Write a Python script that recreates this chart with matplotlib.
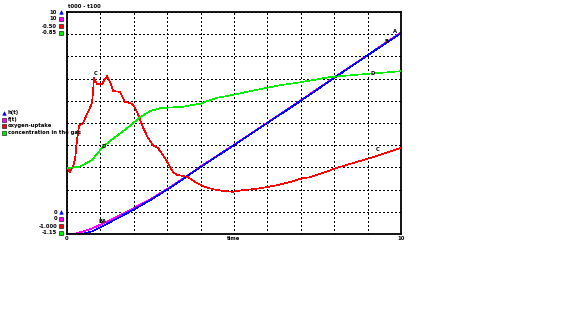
import matplotlib
matplotlib.use("Agg")
import matplotlib.pyplot as plt
from matplotlib.lines import Line2D

# ---- series data ----
t_blue = [0, 0.25, 0.45, 0.75, 1.0, 1.5, 2.0, 2.5, 3.0, 3.5, 4.0, 5.0, 6.0, 7.0, 8.0, 9.0, 10.0]
v_blue = [0, 0, 0, 0.12, 0.30, 0.70, 1.10, 1.53, 2.00, 2.50, 3.02, 4.00, 5.00, 6.00, 7.03, 8.05, 9.05]

t_mag = [0, 0.2, 0.5, 0.75, 1.0, 1.5, 2.0, 2.5, 3.0, 3.5, 4.0, 5.0, 6.0, 7.0, 8.0, 9.0, 10.0]
v_mag = [0, 0, 0.12, 0.25, 0.42, 0.78, 1.17, 1.57, 2.03, 2.52, 3.04, 4.02, 5.02, 6.02, 7.05, 8.06, 9.08]

t_red = [0, 0.09, 0.18, 0.24, 0.30, 0.36, 0.48, 0.63, 0.75, 0.81, 0.90, 1.05, 1.20, 1.29,
         1.38, 1.59, 1.74, 1.89, 1.98, 2.10, 2.19, 2.28, 2.43, 2.57, 2.72, 2.87, 3.02,
         3.17, 3.29, 3.47, 3.62, 3.74, 3.89, 4.13, 4.37, 4.67, 4.97, 5.27, 5.57, 5.87,
         6.29, 6.68, 7.07, 7.28, 8.17, 9.07, 10.0]
v_red = [-0.851, -0.860, -0.847, -0.833, -0.788, -0.757, -0.750, -0.725, -0.705, -0.649,
         -0.662, -0.662, -0.644, -0.658, -0.678, -0.680, -0.703, -0.705, -0.709, -0.725,
         -0.743, -0.761, -0.784, -0.800, -0.806, -0.822, -0.840, -0.860, -0.867, -0.869,
         -0.872, -0.878, -0.885, -0.894, -0.899, -0.903, -0.905, -0.901, -0.899, -0.896,
         -0.890, -0.883, -0.874, -0.872, -0.849, -0.829, -0.806]

t_green = [0, 0.39, 0.75, 1.08, 1.44, 1.80, 2.19, 2.49, 2.78, 3.47, 3.98, 4.49, 4.97,
           5.69, 6.38, 6.98, 7.87, 8.62, 10.0]
v_green = [-1.061, -1.059, -1.050, -1.032, -1.019, -1.007, -0.992, -0.984, -0.980, -0.978,
           -0.974, -0.966, -0.962, -0.955, -0.949, -0.945, -0.938, -0.935, -0.930]

# axis ranges per series (bottom, top)
blue_range = (0, 10)
mag_range = (0, 10)
red_range = (-1.0, -0.5)
green_range = (-1.15, -0.85)

range_top_labels = ["10", "10", "-0.50", "-0.85"]
range_bottom_labels = ["0", "0", "-1.000", "-1.15"]
legend_labels = ["h(t)", "f(t)", "oxygen-uptake", "concentration in the gas"]
series_tags = ["A", "B", "C", "D"]
title_text = "t000 - t100"
x_labels = ["0", "time", "10"]

colors = ["#0000ff", "#ff00ff", "#ff0000", "#00ee00"]
icon_markers = ["^", "s", "s", "s"]

W, H = 573, 334
fig = plt.figure(figsize=(W / 100, H / 100), dpi=100)
L, R, T, B = 67, 401, 12, 234
ax = fig.add_axes([L / W, 1 - B / H, (R - L) / W, (B - T) / H])

FS = 3.8
txt = dict(fontsize=FS, fontweight="heavy", color="black")

# grid on the base axes
ax.set_xlim(0, 10)
ax.set_ylim(*blue_range)
ax.set_xticks(range(0, 11))
ax.set_yticks(range(0, 11))
ax.tick_params(length=0, labelbottom=False, labelleft=False)
ax.grid(True, color="black", linestyle=(0, (1, 2)), linewidth=0.9, antialiased=False)
for s in ax.spines.values():
    s.set_linewidth(1.3)

ax_red = ax.twinx()
ax_red.set_ylim(*red_range)
ax_green = ax.twinx()
ax_green.set_ylim(*green_range)
for a in (ax_red, ax_green):
    a.set_yticks([])
    a.axis("off")

lw = 0.45
ax_green.plot(t_green, v_green, color=colors[3], lw=lw, antialiased=False)
ax_red.plot(t_red, v_red, color=colors[2], lw=lw, antialiased=False)
ax.plot(t_mag, v_mag, color=colors[1], lw=lw, antialiased=False)
ax.plot(t_blue, v_blue, color=colors[0], lw=lw, antialiased=False)

# series tags along the curves
ax.text(0.95, 0.45, series_tags[1] + series_tags[0], ha="left", va="bottom", **txt)
ax.text(9.75, 9.0, series_tags[0], ha="left", va="bottom", **txt)
ax.text(9.5, 8.55, series_tags[1], ha="left", va="bottom", **txt)
ax_red.text(0.8, -0.645, series_tags[2], ha="left", va="bottom", **txt)
ax_red.text(9.25, -0.815, series_tags[2], ha="left", va="bottom", **txt)
ax_green.text(1.02, -1.035, series_tags[3], ha="left", va="bottom", **txt)
ax_green.text(9.08, -0.937, series_tags[3], ha="left", va="bottom", **txt)

# title and x labels
fig.text(68 / W, 1 - 6 / H, title_text, ha="left", va="center", **txt)
fig.text(L / W, 1 - 239 / H, x_labels[0], ha="center", va="center", **txt)
fig.text((L + R) / 2 / W, 1 - 239 / H, x_labels[1], ha="center", va="center", **txt)
fig.text(R / W, 1 - 239 / H, x_labels[2], ha="center", va="center", **txt)

def icon(x, y, i):
    fig.add_artist(Line2D([x / W], [1 - y / H], marker=icon_markers[i], markersize=2.6,
                          color=colors[i], markeredgewidth=0.4,
                          markeredgecolor="black" if i else colors[i],
                          transform=fig.transFigure))

# per-series range labels at top and bottom of the axis
for i in range(4):
    y_top = 12 + 7 * i
    y_bot = 212 + 7 * i
    fig.text(57 / W, 1 - y_top / H, range_top_labels[i], ha="right", va="center", **txt)
    fig.text(57 / W, 1 - y_bot / H, range_bottom_labels[i], ha="right", va="center", **txt)
    icon(61, y_top, i)
    icon(61, y_bot, i)

# legend block
for i in range(4):
    y = 113 + 6.5 * i
    icon(4, y, i)
    fig.text(8 / W, 1 - y / H, legend_labels[i], ha="left", va="center", **txt)

fig.savefig("out.png", dpi=100)
